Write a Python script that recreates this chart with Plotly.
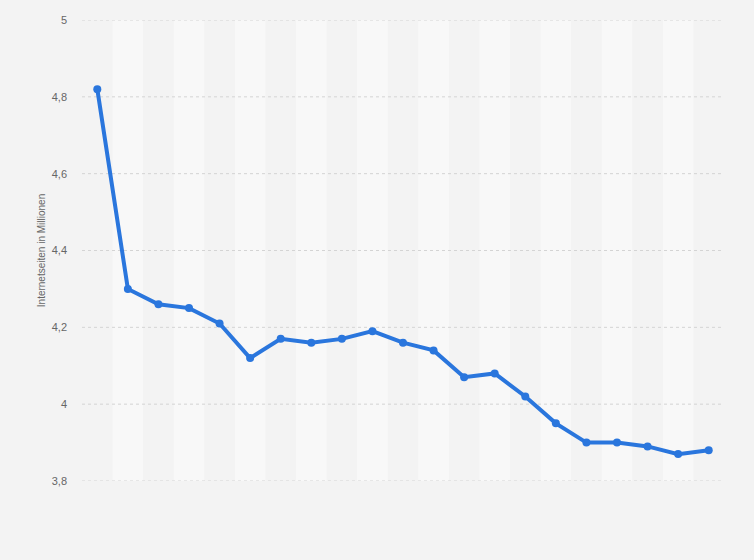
import plotly.graph_objects as go

categories = [str(i) for i in range(1, 22)]
values = [4.82, 4.30, 4.26, 4.25, 4.21, 4.12, 4.17, 4.16, 4.17, 4.19, 4.16,
          4.14, 4.07, 4.08, 4.02, 3.95, 3.90, 3.90, 3.89, 3.87, 3.88]
y_ticks = [3.8, 4.0, 4.2, 4.4, 4.6, 4.8, 5.0]
y_tick_labels = ["3,8", "4", "4,2", "4,4", "4,6", "4,8", "5"]

fig = go.Figure()
fig.add_trace(go.Scatter(
    x=list(range(len(categories))), y=values, mode="lines+markers",
    line=dict(color="#2a76dd", width=4),
    marker=dict(color="#2a76dd", size=8),
    hoverinfo="y", showlegend=False,
))

shapes = []
for i in range(len(categories)):
    if i % 2 == 1:
        shapes.append(dict(type="rect", xref="x", yref="paper", x0=i - 0.5, x1=i + 0.5,
                           y0=0, y1=1, fillcolor="#f8f8f8", line=dict(width=0), layer="below"))
for t in y_ticks:
    shapes.append(dict(type="line", xref="paper", yref="y", x0=0, x1=1, y0=t, y1=t,
                       line=dict(color="#d4d4d4", width=1, dash="dot"), layer="below"))

fig.update_layout(
    width=754, height=560,
    margin=dict(l=82, r=30, t=20, b=79),
    paper_bgcolor="#f3f3f3", plot_bgcolor="#f3f3f3",
    font=dict(family="Liberation Sans, Arial, sans-serif", size=11, color="#666666"),
    shapes=shapes,
    xaxis=dict(range=[-0.5, len(categories) - 0.5], showgrid=False, zeroline=False,
               showticklabels=False, showline=False, ticks=""),
    yaxis=dict(range=[3.8, 5.0], tickvals=y_ticks, ticktext=y_tick_labels,
               showgrid=False, zeroline=False, showline=False, ticks="", ticklabelstandoff=14,
               title=dict(text="Internetseiten in Millionen", font=dict(size=10, color="#666666"),
                          standoff=4)),
)

fig.write_html("out.html", config={"displayModeBar": False},
               post_script="document.body.style.margin='0';document.body.style.background='#f3f3f3';")
